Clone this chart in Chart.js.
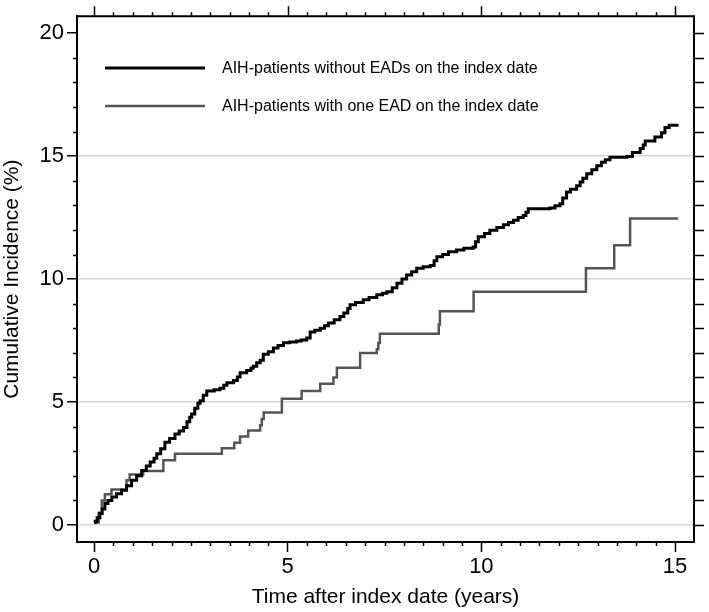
<!DOCTYPE html>
<html>
<head>
<meta charset="utf-8">
<script src="https://cdn.jsdelivr.net/npm/chart.js@4.4.1/dist/chart.umd.min.js"></script>
<style>
  body { margin: 0; background: #fff; }
  #wrap { width: 709px; height: 612px; }
</style>
</head>
<body>
<div id="wrap"><canvas id="myChart" width="709" height="612"></canvas></div>
<script>
// series labels
const seriesLabels = [
  'AIH-patients without EADs on the index date',
  'AIH-patients with one EAD on the index date'
];

// without EADs (black) - step events: time (years), cumulative incidence (%)
const noEadTimes = [
  0.00, 0.03, 0.08, 0.15, 0.21, 0.28, 0.36, 0.46, 0.58, 0.71, 0.84, 0.97,
  1.10, 1.23, 1.35, 1.45, 1.55, 1.62, 1.72, 1.83, 1.95, 2.09, 2.20, 2.31,
  2.40, 2.47, 2.52, 2.60, 2.68, 2.74, 2.82, 2.91, 3.10, 3.25, 3.35, 3.43,
  3.60, 3.70, 3.77, 3.94, 4.05, 4.11, 4.20, 4.29, 4.37, 4.50, 4.63, 4.75,
  4.89, 5.05, 5.23, 5.35, 5.49, 5.58, 5.70, 5.84, 5.95, 6.05, 6.20, 6.35,
  6.45, 6.55, 6.61, 6.75, 6.95, 7.10, 7.30, 7.45, 7.56, 7.70, 7.82, 7.95,
  8.07, 8.20, 8.33, 8.50, 8.68, 8.78, 8.85, 9.00, 9.15, 9.36, 9.55, 9.79,
  9.85, 9.92, 10.08, 10.22, 10.40, 10.57, 10.70, 10.83, 10.95, 11.08, 11.15, 11.21,
  11.77, 11.90, 12.03, 12.10, 12.20, 12.30, 12.46, 12.55, 12.62, 12.72, 12.85, 12.98,
  13.10, 13.20, 13.32, 13.75, 13.90, 14.10, 14.18, 14.23, 14.48, 14.65, 14.74, 14.85,
  15.09
];
const noEadValues = [
  0.10, 0.15, 0.30, 0.47, 0.65, 0.88, 1.00, 1.14, 1.27, 1.41, 1.60, 1.82,
  2.00, 2.22, 2.40, 2.56, 2.72, 2.90, 3.10, 3.37, 3.52, 3.70, 3.82, 3.97,
  4.20, 4.38, 4.51, 4.75, 4.95, 5.05, 5.28, 5.45, 5.50, 5.56, 5.68, 5.79,
  5.88, 6.02, 6.19, 6.28, 6.38, 6.46, 6.60, 6.70, 6.94, 7.05, 7.20, 7.30,
  7.41, 7.44, 7.48, 7.52, 7.61, 7.85, 7.92, 8.00, 8.10, 8.22, 8.35, 8.48,
  8.62, 8.80, 8.96, 9.05, 9.16, 9.25, 9.36, 9.42, 9.49, 9.65, 9.83, 10.00,
  10.17, 10.30, 10.44, 10.50, 10.55, 10.75, 10.91, 11.00, 11.11, 11.18, 11.25, 11.31,
  11.52, 11.72, 11.85, 11.99, 12.10, 12.21, 12.30, 12.39, 12.50, 12.59, 12.72, 12.86,
  12.89, 12.98, 13.06, 13.30, 13.54, 13.65, 13.80, 13.95, 14.10, 14.28, 14.45, 14.61,
  14.75, 14.85, 14.95, 14.99, 15.15, 15.31, 15.45, 15.62, 15.78, 15.95, 16.16, 16.26,
  16.26
];

// one EAD (grey)
const oneEadTimes = [
  0.00, 0.12, 0.20, 0.28, 0.45, 0.84, 0.92, 1.27, 1.79, 2.09, 3.30, 3.62,
  3.77, 3.98, 4.29, 4.33, 4.38, 4.85, 5.36, 5.84, 6.18, 6.27, 6.87, 7.30,
  7.34, 7.38, 8.90, 8.93, 9.80, 12.70, 13.43, 13.84, 15.08
];
const oneEadValues = [
  0.10, 0.50, 1.00, 1.25, 1.44, 1.82, 2.05, 2.20, 2.63, 2.90, 3.12, 3.35,
  3.60, 3.84, 4.06, 4.31, 4.58, 5.13, 5.45, 5.74, 6.00, 6.40, 7.00, 7.15,
  7.40, 7.78, 8.15, 8.69, 9.49, 10.44, 11.38, 12.46, 12.46
];

const yTicks = [0, 5, 10, 15, 20];
const xTicks = [0, 5, 10, 15];

const FONT = '"Liberation Sans", Arial, sans-serif';

function toPoints(xs, ys) {
  return xs.map((x, i) => ({ x: x, y: ys[i] }));
}

// extra ticks, box and legend
const frame = {
  id: 'frame',
  afterDraw(chart) {
    const c = chart.ctx;
    const a = chart.chartArea;
    const xs = chart.scales.x, ys = chart.scales.y;
    c.save();
    c.strokeStyle = '#000';
    c.lineWidth = 2;
    c.beginPath();
    c.moveTo(a.left, a.top); c.lineTo(a.right, a.top); c.lineTo(a.right, a.bottom);
    c.stroke();

    c.lineWidth = 1.5;
    c.beginPath();
    for (let v = 0; v <= 15.001; v += 0.5) {
      const px = Math.round(xs.getPixelForValue(v)) + 0.5;
      const major = xTicks.includes(v);
      if (!major) { c.moveTo(px, a.bottom); c.lineTo(px, a.bottom + 4); }
      c.moveTo(px, a.top); c.lineTo(px, a.top - (major ? 10 : 4));
    }
    for (let v = 0; v <= 20; v += 1) {
      const py = Math.round(ys.getPixelForValue(v)) + 0.5;
      const major = yTicks.includes(v);
      if (!major) { c.moveTo(a.left, py); c.lineTo(a.left - 4, py); }
      c.moveTo(a.right, py); c.lineTo(a.right + 10, py);
    }
    c.stroke();

    // legend
    const ds = chart.data.datasets;
    const rows = [68, 106];
    c.font = '16px ' + FONT;
    c.textBaseline = 'middle';
    c.fillStyle = '#000';
    ds.forEach((d, i) => {
      c.strokeStyle = d.borderColor;
      c.lineWidth = d.borderWidth;
      c.beginPath();
      c.moveTo(105, rows[i]); c.lineTo(205, rows[i]);
      c.stroke();
      c.fillText(d.label, 222, rows[i] + 1);
    });
    c.restore();
  }
};

const ctx = document.getElementById('myChart');
new Chart(ctx, {
  type: 'line',
  data: {
    datasets: [{
      label: seriesLabels[0],
      data: toPoints(noEadTimes, noEadValues),
      stepped: true,
      borderColor: '#000',
      borderWidth: 3,
      borderJoinStyle: 'miter',
      pointRadius: 0,
      fill: false
    }, {
      label: seriesLabels[1],
      data: toPoints(oneEadTimes, oneEadValues),
      stepped: true,
      borderColor: '#555',
      borderWidth: 2.5,
      borderJoinStyle: 'miter',
      pointRadius: 0,
      fill: false
    }]
  },
  options: {
    responsive: false,
    animation: false,
    events: [],
    layout: { padding: { top: 13, right: 15, left: 0, bottom: 0 } },
    plugins: { legend: { display: false }, tooltip: { enabled: false } },
    scales: {
      x: {
        type: 'linear',
        min: -0.44,
        max: 15.49,
        afterFit(scale) { scale.height = 70; },
        ticks: {
          stepSize: 5, includeBounds: false, maxRotation: 0, padding: 2,
          color: '#000', font: { size: 22, family: FONT }
        },
        grid: { drawOnChartArea: false, tickLength: 10, tickColor: '#000', tickWidth: 1.5 },
        border: { display: true, color: '#000', width: 2 },
        title: {
          display: true, text: 'Time after index date (years)', color: '#000',
          font: { size: 21, family: FONT }, padding: { top: 0, bottom: 2 }
        }
      },
      y: {
        min: -0.69,
        max: 20.69,
        afterFit(scale) { scale.width = 77; },
        ticks: {
          stepSize: 5, includeBounds: false, padding: 3,
          color: '#000', font: { size: 22, family: FONT }
        },
        grid: {
          color: c => (c.tick && c.tick.value === 20) ? 'rgba(0,0,0,0)' : '#d6d6d6',
          lineWidth: 1.5,
          tickLength: 10, tickColor: '#000', tickWidth: 1.5
        },
        border: { display: true, color: '#000', width: 2 },
        title: {
          display: true, text: 'Cumulative Incidence (%)', color: '#000',
          font: { size: 21, family: FONT }, padding: { top: 0, bottom: 0 }
        }
      }
    }
  },
  plugins: [frame]
});
</script>
</body>
</html>
